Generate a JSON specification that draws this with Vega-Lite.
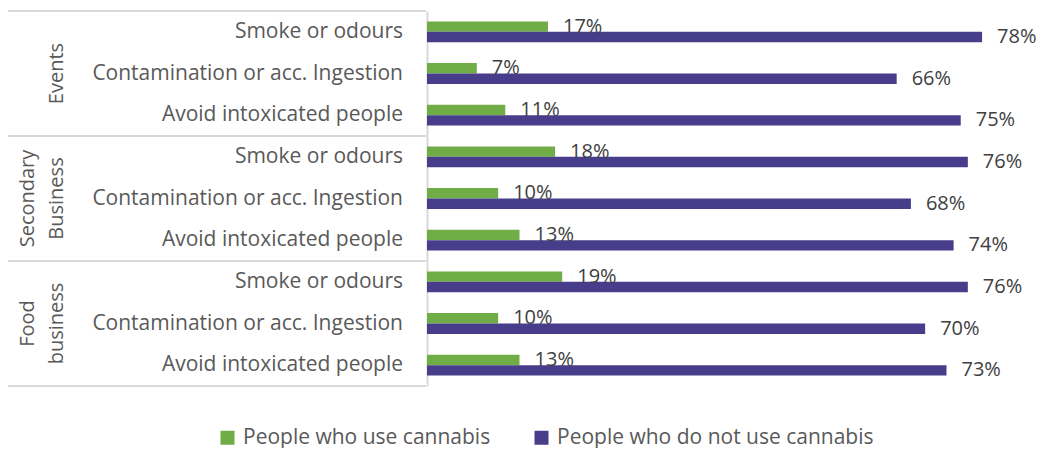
{
  "$schema": "https://vega.github.io/schema/vega-lite/v6.json",
  "padding": {"left": 7, "top": 10, "right": 5, "bottom": 0},
  "background": "white",
  "config": {"view": {"stroke": null}, "font": "Open Sans"},
  "data": {"values": [
    {"key": "Events|Smoke or odours", "group": "Events", "category": "Smoke or odours", "series": "People who use cannabis", "value": 0.17},
    {"key": "Events|Smoke or odours", "group": "Events", "category": "Smoke or odours", "series": "People who do not use cannabis", "value": 0.78},
    {"key": "Events|Contamination or acc. Ingestion", "group": "Events", "category": "Contamination or acc. Ingestion", "series": "People who use cannabis", "value": 0.07},
    {"key": "Events|Contamination or acc. Ingestion", "group": "Events", "category": "Contamination or acc. Ingestion", "series": "People who do not use cannabis", "value": 0.66},
    {"key": "Events|Avoid intoxicated people", "group": "Events", "category": "Avoid intoxicated people", "series": "People who use cannabis", "value": 0.11},
    {"key": "Events|Avoid intoxicated people", "group": "Events", "category": "Avoid intoxicated people", "series": "People who do not use cannabis", "value": 0.75},
    {"key": "Secondary Business|Smoke or odours", "group": "Secondary Business", "category": "Smoke or odours", "series": "People who use cannabis", "value": 0.18},
    {"key": "Secondary Business|Smoke or odours", "group": "Secondary Business", "category": "Smoke or odours", "series": "People who do not use cannabis", "value": 0.76},
    {"key": "Secondary Business|Contamination or acc. Ingestion", "group": "Secondary Business", "category": "Contamination or acc. Ingestion", "series": "People who use cannabis", "value": 0.10},
    {"key": "Secondary Business|Contamination or acc. Ingestion", "group": "Secondary Business", "category": "Contamination or acc. Ingestion", "series": "People who do not use cannabis", "value": 0.68},
    {"key": "Secondary Business|Avoid intoxicated people", "group": "Secondary Business", "category": "Avoid intoxicated people", "series": "People who use cannabis", "value": 0.13},
    {"key": "Secondary Business|Avoid intoxicated people", "group": "Secondary Business", "category": "Avoid intoxicated people", "series": "People who do not use cannabis", "value": 0.74},
    {"key": "Food business|Smoke or odours", "group": "Food business", "category": "Smoke or odours", "series": "People who use cannabis", "value": 0.19},
    {"key": "Food business|Smoke or odours", "group": "Food business", "category": "Smoke or odours", "series": "People who do not use cannabis", "value": 0.76},
    {"key": "Food business|Contamination or acc. Ingestion", "group": "Food business", "category": "Contamination or acc. Ingestion", "series": "People who use cannabis", "value": 0.10},
    {"key": "Food business|Contamination or acc. Ingestion", "group": "Food business", "category": "Contamination or acc. Ingestion", "series": "People who do not use cannabis", "value": 0.70},
    {"key": "Food business|Avoid intoxicated people", "group": "Food business", "category": "Avoid intoxicated people", "series": "People who use cannabis", "value": 0.13},
    {"key": "Food business|Avoid intoxicated people", "group": "Food business", "category": "Avoid intoxicated people", "series": "People who do not use cannabis", "value": 0.73}
  ]},
  "spacing": 0,
  "resolve": {"scale": {"y": "shared"}, "axis": {"y": "independent"}},
  "hconcat": [
    {
      "width": 418,
      "height": 375,
      "encoding": {
        "y": {"field": "key", "type": "nominal", "axis": null,
          "scale": {"domain": [
            "Events|Smoke or odours", "Events|Contamination or acc. Ingestion", "Events|Avoid intoxicated people",
            "Secondary Business|Smoke or odours", "Secondary Business|Contamination or acc. Ingestion", "Secondary Business|Avoid intoxicated people",
            "Food business|Smoke or odours", "Food business|Contamination or acc. Ingestion", "Food business|Avoid intoxicated people"],
            "paddingInner": 0, "paddingOuter": 0}}
      },
      "layer": [
        {
          "transform": [{"filter": "datum.series === 'People who use cannabis'"}],
          "mark": {"type": "text", "align": "right", "baseline": "middle", "dx": -23, "fontSize": 21, "color": "#595959", "font": "Open Sans"},
          "encoding": {
            "x": {"datum": 1, "type": "quantitative", "scale": {"domain": [0, 1]}, "axis": null},
            "text": {"field": "category", "type": "nominal"}
          }
        },
        {
          "transform": [{"filter": "datum.series === 'People who use cannabis' && datum.category === 'Contamination or acc. Ingestion' && datum.group === 'Events'"}],
          "mark": {"type": "text", "align": "center", "baseline": "bottom", "angle": 270, "fontSize": 20, "color": "#595959", "font": "Open Sans"},
          "encoding": {
            "x": {"datum": 0.141, "type": "quantitative"},
            "text": {"field": "group", "type": "nominal"}
          }
        },
        {
          "transform": [{"filter": "datum.series === 'People who use cannabis' && datum.category === 'Contamination or acc. Ingestion' && datum.group !== 'Events'"}],
          "mark": {"type": "text", "align": "center", "baseline": "bottom", "angle": 270, "lineBreak": " ", "lineHeight": 28.4, "fontSize": 20, "color": "#595959", "font": "Open Sans"},
          "encoding": {
            "x": {"datum": 0.0725, "type": "quantitative"},
            "text": {"field": "group", "type": "nominal"}
          }
        },
        {
          "transform": [{"filter": "datum.series === 'People who use cannabis' && datum.category === 'Smoke or odours'"}],
          "mark": {"type": "rule", "color": "#d9d9d9", "strokeWidth": 2},
          "encoding": {
            "y": {"field": "key", "type": "nominal", "bandPosition": 0}
          }
        },
        {
          "transform": [{"filter": "datum.series === 'People who use cannabis' && datum.key === 'Food business|Avoid intoxicated people'"}],
          "mark": {"type": "rule", "color": "#d9d9d9", "strokeWidth": 2},
          "encoding": {
            "y": {"field": "key", "type": "nominal", "bandPosition": 1}
          }
        }
      ]
    },
    {
      "width": 612,
      "height": 375,
      "encoding": {
        "y": {"field": "key", "type": "nominal",
          "axis": {"labels": false, "ticks": false, "title": null, "grid": false, "domain": true, "domainColor": "#d9d9d9", "domainWidth": 2}},
        "yOffset": {"field": "series", "type": "nominal",
          "scale": {"domain": ["People who use cannabis", "People who do not use cannabis"], "paddingInner": 0, "paddingOuter": 1.083}},
        "x": {"field": "value", "type": "quantitative", "scale": {"domain": [0, 0.86], "nice": false}, "axis": null}
      },
      "layer": [
        {
          "mark": {"type": "bar"},
          "encoding": {
            "color": {"field": "series", "type": "nominal",
              "scale": {"domain": ["People who use cannabis", "People who do not use cannabis"], "range": ["#70AD47", "#483D8B"]},
              "legend": {"orient": "none", "direction": "horizontal", "title": null, "legendX": 209, "legendY": 416,
                "symbolType": "square", "symbolSize": 196, "symbolStrokeWidth": 0, "labelFontSize": 21, "labelFont": "Open Sans", "labelColor": "#595959",
                "labelLimit": 500, "labelOffset": 5, "columnPadding": 40}}
          }
        },
        {
          "mark": {"type": "text", "align": "left", "baseline": "middle", "dx": 15, "fontSize": 20, "color": "#404040", "font": "Open Sans"},
          "encoding": {
            "text": {"field": "value", "type": "quantitative", "format": ".0%"}
          }
        }
      ]
    }
  ]
}
